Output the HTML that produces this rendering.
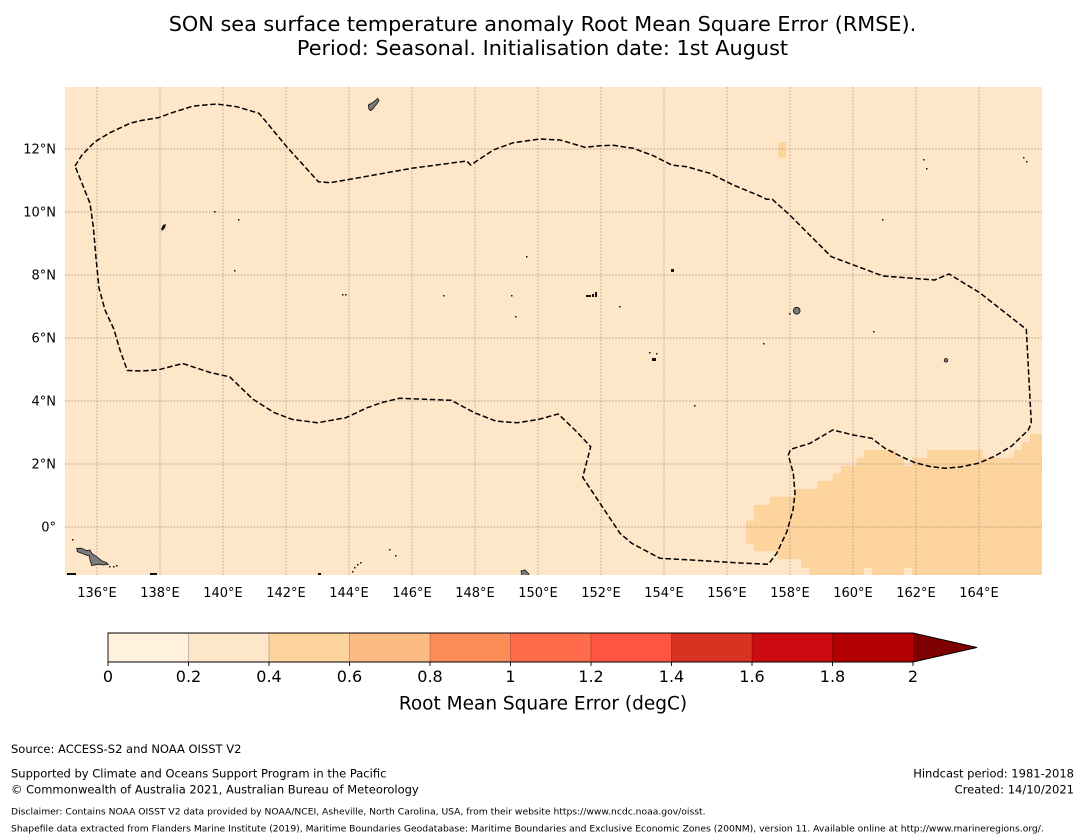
<!DOCTYPE html>
<html>
<head>
<meta charset="utf-8">
<style>
  html,body{margin:0;padding:0;background:#fff;}
  body{width:1085px;height:839px;overflow:hidden;}
  svg{display:block;font-family:"DejaVu Sans","Liberation Sans",sans-serif;}
</style>
</head>
<body>
<svg width="1085" height="839" viewBox="0 0 1085 839" xmlns="http://www.w3.org/2000/svg">
  <rect x="0" y="0" width="1085" height="839" fill="#ffffff"/>

  <!-- Title -->
  <text x="542.5" y="31" font-size="20.8" text-anchor="middle" fill="#000">SON sea surface temperature anomaly Root Mean Square Error (RMSE).</text>
  <text x="542.5" y="55" font-size="20.8" text-anchor="middle" fill="#000">Period: Seasonal. Initialisation date: 1st August</text>

  <defs>
    <clipPath id="mapclip"><rect x="65" y="87" width="977" height="488"/></clipPath>
  </defs>

  <g clip-path="url(#mapclip)">
    <rect x="65" y="87" width="977" height="488" fill="#fee6c8"/>
    <polygon fill="#fdd49e" points="
      864,450 896,450 896,457.7 904,457.7 904,465.7 912,465.7 912,457.7 927,457.7 927,450
      982.7,450 982.7,457.7 1014,457.7 1014,450 1022,450 1022,442 1030,442 1030,434 1045,434
      1045,578 912,578 912,567.7 904,567.7 904,578 872,578 872,568 864,568 864,578 809,578
      809,568 801,568 801,559.3 778,559.3 778,551.3 754,551.3 754,544 746,544 746,520.7
      754,520.7 754,505 770,505 770,496.7 794,496.7 794,489 817,489 817,481 833,481
      833,473.3 841,473.3 841,465.7 856.7,465.7 856.7,457.7 864,457.7"/>
    <rect x="778.3" y="142.3" width="7.8" height="15.4" fill="#fdd49e"/>
    <rect x="368" y="102" width="7" height="8" fill="#fdd49e"/>

    <g stroke="#6e6256" stroke-width="0.9" stroke-dasharray="1.6,1.6" opacity="0.5" fill="none">
      <line x1="97" y1="87" x2="97" y2="575"/>
      <line x1="160" y1="87" x2="160" y2="575"/>
      <line x1="223" y1="87" x2="223" y2="575"/>
      <line x1="286" y1="87" x2="286" y2="575"/>
      <line x1="349" y1="87" x2="349" y2="575"/>
      <line x1="412" y1="87" x2="412" y2="575"/>
      <line x1="475" y1="87" x2="475" y2="575"/>
      <line x1="538" y1="87" x2="538" y2="575"/>
      <line x1="601" y1="87" x2="601" y2="575"/>
      <line x1="664" y1="87" x2="664" y2="575"/>
      <line x1="727" y1="87" x2="727" y2="575"/>
      <line x1="790" y1="87" x2="790" y2="575"/>
      <line x1="853" y1="87" x2="853" y2="575"/>
      <line x1="916" y1="87" x2="916" y2="575"/>
      <line x1="979" y1="87" x2="979" y2="575"/>
      <line x1="65" y1="149" x2="1042" y2="149"/>
      <line x1="65" y1="212" x2="1042" y2="212"/>
      <line x1="65" y1="275" x2="1042" y2="275"/>
      <line x1="65" y1="338" x2="1042" y2="338"/>
      <line x1="65" y1="401" x2="1042" y2="401"/>
      <line x1="65" y1="464" x2="1042" y2="464"/>
      <line x1="65" y1="527" x2="1042" y2="527"/>
    </g>

    <g fill="#7a7a7a" stroke="#111" stroke-width="0.8">
      <polygon points="76.7,548.3 81.7,548.3 86.7,550.7 90,550 91.7,553.3 96.7,556.7 101.7,560.7 106.7,562.7 108.3,564.3 103.3,565 98.3,564.3 91.7,565.5 90,560 89.3,556 86,555 81.7,553.3 77.3,551.7"/>
      <polygon points="368.3,105 371.7,103.3 376,100 377.7,98.3 379,100.7 376.7,104 375,106 373.3,108.3 370.7,110.7 369,109.3"/>
      <circle cx="796.7" cy="310.7" r="3.4"/>
      <circle cx="946" cy="360.3" r="1.8"/>
      <polygon points="521,571 525,570 529,574 528,576 522,576"/>
    </g>
    <g fill="#111">
      <polygon points="161,229 163,225 166,224 165,228 162,231"/>
      <rect x="586" y="295" width="5" height="2"/>
      <rect x="592" y="294" width="2" height="3"/>
      <rect x="595" y="292" width="2" height="5"/>
      <rect x="671" y="269" width="3" height="3"/>
      <rect x="652" y="358" width="4" height="3"/>
      <rect x="649" y="352" width="1.5" height="1.5"/>
      <rect x="656" y="353" width="1.5" height="1.5"/>
      <rect x="214" y="211" width="1.5" height="1.5"/>
      <rect x="238" y="219" width="1.5" height="1.5"/>
      <rect x="234" y="270" width="1.5" height="1.5"/>
      <rect x="342" y="294" width="1.5" height="1.5"/>
      <rect x="345" y="294" width="1.5" height="1.5"/>
      <rect x="443" y="295" width="1.5" height="1.5"/>
      <rect x="511" y="295" width="1.5" height="1.5"/>
      <rect x="515" y="316" width="1.5" height="1.5"/>
      <rect x="526" y="256" width="1.5" height="1.5"/>
      <rect x="619" y="306" width="1.5" height="1.5"/>
      <rect x="763" y="343" width="1.5" height="1.5"/>
      <rect x="789" y="313" width="1.5" height="1.5"/>
      <rect x="873" y="331" width="1.5" height="1.5"/>
      <rect x="882" y="219" width="1.5" height="1.5"/>
      <rect x="923" y="159" width="1.5" height="1.5"/>
      <rect x="926" y="168" width="1.5" height="1.5"/>
      <rect x="1023" y="157" width="1.5" height="1.5"/>
      <rect x="1026" y="161" width="1.5" height="1.5"/>
      <rect x="694" y="405" width="1.5" height="1.5"/>
      <rect x="389" y="549" width="1.5" height="1.5"/>
      <rect x="395" y="555" width="1.5" height="1.5"/>
      <rect x="354" y="567" width="1.5" height="1.5"/>
      <rect x="357" y="564" width="1.5" height="1.5"/>
      <rect x="360" y="562" width="1.5" height="1.5"/>
      <rect x="352" y="571" width="1.5" height="1.5"/>
      <rect x="72" y="539" width="1.5" height="1.5"/>
      <rect x="109" y="566" width="1.5" height="1.5"/>
      <rect x="113" y="566" width="1.5" height="1.5"/>
      <rect x="116" y="565" width="1.5" height="1.5"/>
      <rect x="67" y="573" width="9" height="2"/>
      <rect x="150" y="573" width="7" height="2"/>
      <rect x="318" y="573" width="3" height="2"/>
    </g>

    <polyline fill="none" stroke="#000" stroke-width="1.5" stroke-dasharray="5.5,2.6" stroke-linejoin="round" points="
      75,166 82,155 95,141.7 110,132.7 130,123.3 140,120.7 158.3,117.7 173.3,112.3 193.3,106 216.7,104
      236.7,106.7 259,113.3 286.7,146.7 318.3,181.7 330,182.7 350,179.3 411.7,168.3 466.7,161 470.7,165
      493.3,150 513.3,142.7 540,139 560,140 585,147.3 600,145.7 613.3,145.3 633.3,148.3 653.3,155.7
      671.7,165 686.7,166.7 710,173.3 733.3,185 759.7,196 766.7,199.3 772.3,199.3 789.7,215 831.3,256.7
      883,276 934.7,280 949,274 979.7,292.7 1026.3,329.3 1031.3,423.3 1028.3,430 1019.7,438.3
      1011.7,446 995,456 978.3,463.3 960,467 945,468.3 930,466.5 915,462.7 900,456 885,448.3 871.7,438.3
      853.3,435 832.7,430 810,443.3 790.7,449.3 788.3,455 793.3,473.3 795,493.3 793,510 789,524
      786.7,532 776.7,553.3 768.3,564.3 740,563 700,560.5 660,558.3 631.7,543.3 620,533.3 600,503.3
      582.7,477.3 590.7,446.7 575,430 558.2,414 538.6,419.4 517.2,422.8 495.8,421.1 474.4,412.7
      451.2,400.3 399.4,398.3 381.5,402.7 367.3,407.7 345.8,417.7 317.3,422.8 292.3,419.4 274.4,412.7
      253,399.3 229.8,376.9 210.2,372.5 182.7,363.5 158.4,369.8 142,371 127.3,370.5 120,350 113.8,329
      105,310 99,288 96,258 93.3,226.7 90,203.3 75,166"/>
  </g>

  <g font-size="13" text-anchor="middle" fill="#000">
    <text x="97" y="597">136°E</text>
    <text x="160" y="597">138°E</text>
    <text x="223" y="597">140°E</text>
    <text x="286" y="597">142°E</text>
    <text x="349" y="597">144°E</text>
    <text x="412" y="597">146°E</text>
    <text x="475" y="597">148°E</text>
    <text x="538" y="597">150°E</text>
    <text x="601" y="597">152°E</text>
    <text x="664" y="597">154°E</text>
    <text x="727" y="597">156°E</text>
    <text x="790" y="597">158°E</text>
    <text x="853" y="597">160°E</text>
    <text x="916" y="597">162°E</text>
    <text x="979" y="597">164°E</text>
  </g>
  <g font-size="13" text-anchor="end" fill="#000">
    <text x="56" y="153.5">12°N</text>
    <text x="56" y="216.5">10°N</text>
    <text x="56" y="279.5">8°N</text>
    <text x="56" y="342.5">6°N</text>
    <text x="56" y="405.5">4°N</text>
    <text x="56" y="468.5">2°N</text>
    <text x="56" y="531.5">0°</text>
  </g>

  <g>
    <rect x="108" y="633" width="80.5" height="29" fill="#fff1de"/>
    <rect x="188.5" y="633" width="80.5" height="29" fill="#fee6c8"/>
    <rect x="269" y="633" width="80.5" height="29" fill="#fdd49e"/>
    <rect x="349.5" y="633" width="80.5" height="29" fill="#fdbb84"/>
    <rect x="430" y="633" width="80.5" height="29" fill="#fc8d59"/>
    <rect x="510.5" y="633" width="80.5" height="29" fill="#ff6b4b"/>
    <rect x="591" y="633" width="80.5" height="29" fill="#ff5541"/>
    <rect x="671.5" y="633" width="80.5" height="29" fill="#d93222"/>
    <rect x="752" y="633" width="80.5" height="29" fill="#cc0b10"/>
    <rect x="832.5" y="633" width="80.5" height="29" fill="#b30000"/>
    <polygon points="913,633 977,647.5 913,662" fill="#7f0000"/>
    <g stroke="#000" stroke-width="1" opacity="0.22">
      <line x1="188.5" y1="633" x2="188.5" y2="662"/>
      <line x1="269" y1="633" x2="269" y2="662"/>
      <line x1="349.5" y1="633" x2="349.5" y2="662"/>
      <line x1="430" y1="633" x2="430" y2="662"/>
      <line x1="510.5" y1="633" x2="510.5" y2="662"/>
      <line x1="591" y1="633" x2="591" y2="662"/>
      <line x1="671.5" y1="633" x2="671.5" y2="662"/>
      <line x1="752" y1="633" x2="752" y2="662"/>
      <line x1="832.5" y1="633" x2="832.5" y2="662"/>
    </g>
    <polygon points="108,633 913,633 977,647.5 913,662 108,662" fill="none" stroke="#000" stroke-width="0.9"/>
    <g stroke="#000" stroke-width="0.9">
      <line x1="108" y1="662" x2="108" y2="666"/>
      <line x1="188.5" y1="662" x2="188.5" y2="666"/>
      <line x1="269" y1="662" x2="269" y2="666"/>
      <line x1="349.5" y1="662" x2="349.5" y2="666"/>
      <line x1="430" y1="662" x2="430" y2="666"/>
      <line x1="510.5" y1="662" x2="510.5" y2="666"/>
      <line x1="591" y1="662" x2="591" y2="666"/>
      <line x1="671.5" y1="662" x2="671.5" y2="666"/>
      <line x1="752" y1="662" x2="752" y2="666"/>
      <line x1="832.5" y1="662" x2="832.5" y2="666"/>
      <line x1="913" y1="662" x2="913" y2="666"/>
    </g>
    <g font-size="16" text-anchor="middle" fill="#000">
      <text x="108" y="682">0</text>
      <text x="188.5" y="682">0.2</text>
      <text x="269" y="682">0.4</text>
      <text x="349.5" y="682">0.6</text>
      <text x="430" y="682">0.8</text>
      <text x="510.5" y="682">1</text>
      <text x="591" y="682">1.2</text>
      <text x="671.5" y="682">1.4</text>
      <text x="752" y="682">1.6</text>
      <text x="832.5" y="682">1.8</text>
      <text x="913" y="682">2</text>
    </g>
    <text x="543" y="709.5" font-size="18.5" text-anchor="middle" fill="#000">Root Mean Square Error (degC)</text>
  </g>

  <g font-size="11.5" fill="#000">
    <text x="11" y="753">Source: ACCESS-S2 and NOAA OISST V2</text>
    <text x="11" y="777.5">Supported by Climate and Oceans Support Program in the Pacific</text>
    <text x="11" y="793.5">© Commonwealth of Australia 2021, Australian Bureau of Meteorology</text>
    <text x="1074" y="777.5" text-anchor="end">Hindcast period: 1981-2018</text>
    <text x="1074" y="793.5" text-anchor="end">Created: 14/10/2021</text>
  </g>
  <g font-size="9.2" fill="#000">
    <text x="11" y="814.5">Disclaimer: Contains NOAA OISST V2 data provided by NOAA/NCEI, Asheville, North Carolina, USA, from their website https://www.ncdc.noaa.gov/oisst.</text>
    <text x="11" y="831.5">Shapefile data extracted from Flanders Marine Institute (2019), Maritime Boundaries Geodatabase: Maritime Boundaries and Exclusive Economic Zones (200NM), version 11. Available online at http://www.marineregions.org/.</text>
  </g>
</svg>
</body>
</html>
